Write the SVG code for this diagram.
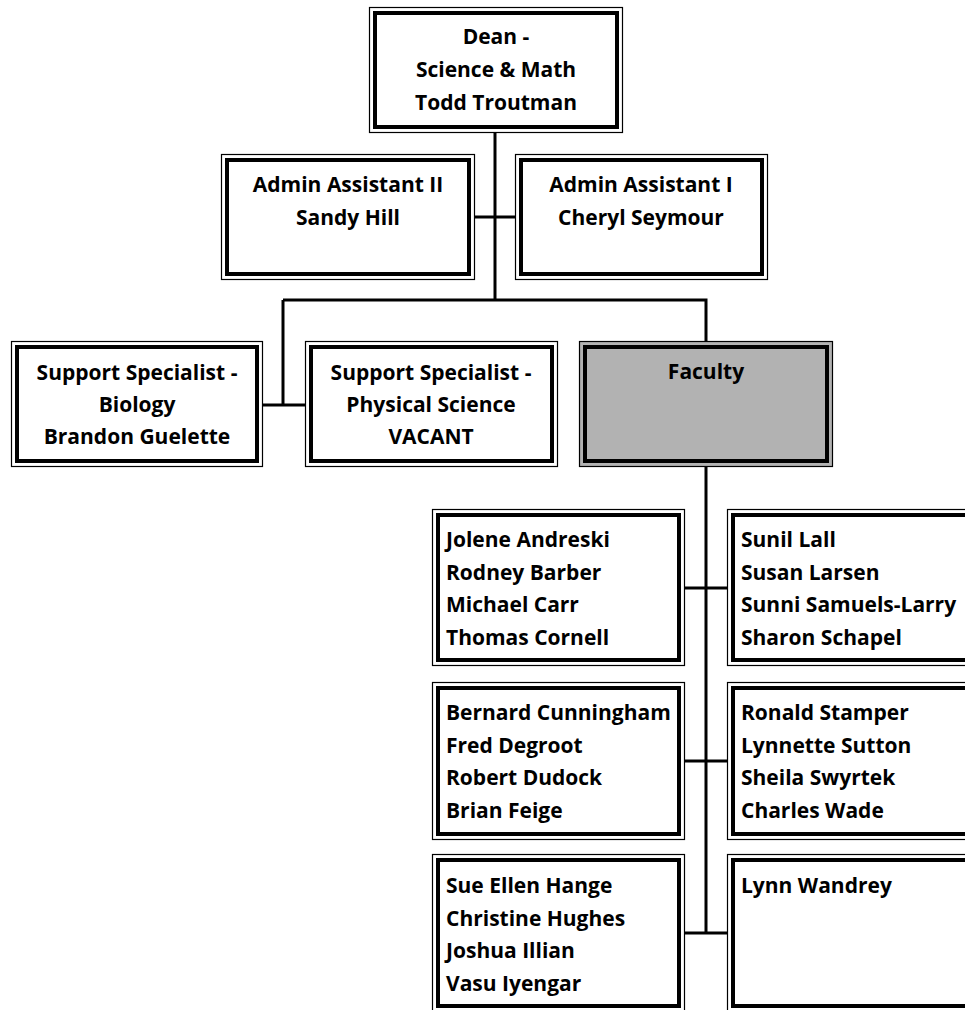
<svg xmlns="http://www.w3.org/2000/svg" width="965" height="1010" viewBox="0 0 965 1010">
<style>
.bg{fill:#ffffff}
.o{fill:#ffffff;stroke:#000;stroke-width:1.2}
.i{fill:none;stroke:#000;stroke-width:4}
.g{fill:#b2b2b2}
.t{font-family:"Open Sans","Liberation Sans",sans-serif;font-weight:700;font-size:21px;fill:#000}
.c{text-anchor:middle}
.ln{stroke:#000;stroke-width:3;fill:none}
</style>
<rect class="bg" x="0" y="0" width="965" height="1010"/>
<g id="connectors">
<path class="ln" d="M495,133 V300"/>
<path class="ln" d="M475,217 H515"/>
<path class="ln" d="M283,300 H706 V341"/>
<path class="ln" d="M283,300 V405"/>
<path class="ln" d="M263,405 H305"/>
<path class="ln" d="M706,467 V933"/>
<path class="ln" d="M685,588 H727"/>
<path class="ln" d="M685,761 H727"/>
<path class="ln" d="M685,933 H727"/>
</g>
<g id="dean">
<rect class="o" x="369.5" y="7.5" width="253" height="125"/>
<rect class="i" x="375" y="13" width="242" height="114"/>
<text class="t c" x="496" y="44">Dean -</text>
<text class="t c" x="496" y="77">Science &amp; Math</text>
<text class="t c" x="496" y="110">Todd Troutman</text>
</g>
<g id="admin2">
<rect class="o" x="221.5" y="154.5" width="253" height="125"/>
<rect class="i" x="227" y="160" width="242" height="114"/>
<text class="t c" x="348" y="192">Admin Assistant II</text>
<text class="t c" x="348" y="225">Sandy Hill</text>
</g>
<g id="admin1">
<rect class="o" x="515.5" y="154.5" width="252" height="125"/>
<rect class="i" x="521" y="160" width="241" height="114"/>
<text class="t c" x="641" y="192">Admin Assistant I</text>
<text class="t c" x="641" y="225">Cheryl Seymour</text>
</g>
<g id="support-bio">
<rect class="o" x="11.5" y="341.5" width="251" height="125"/>
<rect class="i" x="17" y="347" width="240" height="114"/>
<text class="t c" x="137" y="380">Support Specialist -</text>
<text class="t c" x="137" y="412">Biology</text>
<text class="t c" x="137" y="444">Brandon Guelette</text>
</g>
<g id="support-phys">
<rect class="o" x="305.5" y="341.5" width="252" height="125"/>
<rect class="i" x="311" y="347" width="241" height="114"/>
<text class="t c" x="431" y="380">Support Specialist -</text>
<text class="t c" x="431" y="412">Physical Science</text>
<text class="t c" x="431" y="444">VACANT</text>
</g>
<g id="faculty">
<rect class="o g" x="579.5" y="341.5" width="253" height="125" style="fill:#b2b2b2"/>
<rect class="i" x="585" y="347" width="242" height="114"/>
<text class="t c" x="706" y="379">Faculty</text>
</g>
<g id="fac-a">
<rect class="o" x="432.5" y="509.5" width="252" height="156"/>
<rect class="i" x="438" y="515" width="241" height="145"/>
<text class="t" x="446" y="547">Jolene Andreski</text>
<text class="t" x="446" y="579.5">Rodney Barber</text>
<text class="t" x="446" y="612">Michael Carr</text>
<text class="t" x="446" y="644.5">Thomas Cornell</text>
</g>
<g id="fac-b">
<rect class="o" x="727.5" y="509.5" width="254" height="156"/>
<rect class="i" x="733" y="515" width="243" height="145"/>
<text class="t" x="741" y="547">Sunil Lall</text>
<text class="t" x="741" y="579.5">Susan Larsen</text>
<text class="t" x="741" y="612">Sunni Samuels-Larry</text>
<text class="t" x="741" y="644.5">Sharon Schapel</text>
</g>
<g id="fac-c">
<rect class="o" x="432.5" y="682.5" width="252" height="157"/>
<rect class="i" x="438" y="688" width="241" height="146"/>
<text class="t" x="446" y="720">Bernard Cunningham</text>
<text class="t" x="446" y="752.5">Fred Degroot</text>
<text class="t" x="446" y="785">Robert Dudock</text>
<text class="t" x="446" y="817.5">Brian Feige</text>
</g>
<g id="fac-d">
<rect class="o" x="727.5" y="682.5" width="254" height="157"/>
<rect class="i" x="733" y="688" width="243" height="146"/>
<text class="t" x="741" y="720">Ronald Stamper</text>
<text class="t" x="741" y="752.5">Lynnette Sutton</text>
<text class="t" x="741" y="785">Sheila Swyrtek</text>
<text class="t" x="741" y="817.5">Charles Wade</text>
</g>
<g id="fac-e">
<rect class="o" x="432.5" y="854.5" width="252" height="157"/>
<rect class="i" x="438" y="860" width="241" height="146"/>
<text class="t" x="446" y="893">Sue Ellen Hange</text>
<text class="t" x="446" y="925.5">Christine Hughes</text>
<text class="t" x="446" y="958">Joshua Illian</text>
<text class="t" x="446" y="990.5">Vasu Iyengar</text>
</g>
<g id="fac-f">
<rect class="o" x="727.5" y="854.5" width="254" height="157"/>
<rect class="i" x="733" y="860" width="243" height="146"/>
<text class="t" x="741" y="893">Lynn Wandrey</text>
</g>
</svg>
